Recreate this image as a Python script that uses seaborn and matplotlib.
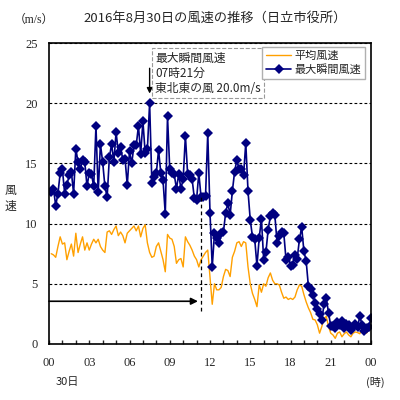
import numpy as np
import pandas as pd
import matplotlib.pyplot as plt
import seaborn as sns

# 10-minute values, 00:10 .. 24:00 on 2016-08-30
mean_speed = [
    7.5, 7.4, 7.2, 8.1, 8.9, 8.3, 8.4, 7.0, 7.7, 8.3,
    7.3, 9.2, 7.6, 8.3, 8.9, 7.8, 8.4, 7.8, 8.3, 8.7,
    8.4, 8.7, 8.1, 7.8, 7.6, 9.3, 9.4, 9.1, 9.5, 9.8,
    9.0, 9.3, 9.0, 8.4, 9.2, 9.4, 9.6, 9.8, 9.4, 9.8,
    8.9, 9.6, 9.9, 8.4, 7.6, 7.2, 7.3, 8.1, 8.4, 7.7,
    7.0, 6.0, 9.1, 8.8, 8.7, 8.1, 6.7, 7.0, 7.1, 6.4,
    8.9, 8.5, 8.2, 7.8, 7.3, 7.0, 6.4, 7.0, 7.3, 7.6,
    7.8,
    5.6, 3.3, 5.0, 4.5, 4.5, 4.7, 5.6, 6.2, 6.1, 5.6,
    7.2, 7.7, 8.4, 8.5, 8.1, 8.5, 8.4, 6.4, 5.0, 4.2,
    3.7, 3.1, 4.9, 4.3, 5.0, 4.8, 5.5, 5.9, 5.3, 5.0,
    5.0, 4.9, 4.3, 3.8, 3.9, 3.7, 3.8, 3.7, 3.9, 4.5,
    4.9, 4.8, 4.1, 3.5, 3.0, 2.6, 2.05, 2.0, 1.6, 0.9,
    1.45, 2.1, 2.3, 1.45, 0.9, 0.75, 0.47, 0.9, 1.0, 0.6,
    0.85, 1.0, 0.75, 0.6, 0.9, 1.0, 0.95, 0.85, 1.3, 1.0,
    0.9, 1.2, 1.5,
]
gust_speed = [
    12.6, 12.9, 11.5, 12.5, 14.2, 14.5, 12.5, 13.2, 14.0, 14.3,
    12.5, 16.2, 15.1, 14.5, 15.3, 15.1, 13.1, 14.2, 14.1, 13.1,
    18.1, 12.6, 16.6, 15.1,
    13.1, 12.2, 15.5, 16.6, 15.1, 17.6, 15.9, 16.4, 15.3, 15.4,
    13.2, 16.0, 15.0, 16.5, 16.5, 18.1, 15.8, 18.5, 15.9, 16.2,
    20.0, 13.4, 13.9, 14.2, 16.1, 14.2,
    13.6, 10.8, 18.9, 14.5, 14.2, 14.1, 12.9, 14.1, 12.9, 13.7,
    17.3, 14.1, 14.0, 13.7, 12.1, 12.0, 14.2, 12.2, 12.2, 12.3,
    17.5, 10.9,
    6.4, 9.2, 8.8, 8.4, 9.2, 9.3, 10.9, 11.7, 10.7, 12.7,
    14.3, 15.3, 14.5, 14.5, 14.0, 16.7, 12.7, 10.3, 8.9, 8.7,
    6.5, 8.8, 10.4, 7.0, 7.6, 9.5, 10.6, 10.9, 10.7, 8.4,
    9.0, 9.3, 9.2, 7.0, 7.2, 6.5, 6.6, 7.4, 7.1, 8.7,
    9.7, 7.7, 6.9, 4.8, 4.6, 4.1, 3.4, 2.9, 2.5, 2.0,
    3.3, 3.8, 2.6,
    1.5, 1.5, 1.3, 1.8, 1.6, 1.9, 1.3, 1.7, 1.6, 1.2,
    1.4, 1.7, 1.4, 2.3, 1.6, 1.1, 1.3, 1.45, 2.15,
]
hour_ticks = [0, 3, 6, 9, 12, 15, 18, 21, 24]
hour_labels = ['00', '03', '06', '09', '12', '15', '18', '21', '00']
peak_hour = 7.5
peak_value = 20.0
after_hour = 11.3

hours = np.arange(1, len(gust_speed) + 1) / 6.0
df = pd.DataFrame({'hour': hours, 'mean': mean_speed, 'gust': gust_speed})

sns.set_style('white')
plt.rcParams['font.family'] = ['Noto Sans CJK JP', 'DejaVu Sans']
serif = ['Liberation Serif', 'Noto Sans CJK JP']

fig = plt.figure(figsize=(4, 4), dpi=100)
ax = fig.add_axes([0.1225, 0.14, 0.805, 0.7525])

sns.lineplot(data=df, x='hour', y='mean', ax=ax, color='#ffa000', lw=1.0,
             label='平均風速')
sns.lineplot(data=df, x='hour', y='gust', ax=ax, color='#000080', lw=1.2,
             marker='D', markersize=4.8, markeredgewidth=0, label='最大瞬間風速')

ax.set_xlim(0, 24)
ax.set_ylim(0, 25)
ax.set_xticks(hour_ticks)
ax.set_xticklabels(hour_labels, family=serif, fontsize=9)
ax.set_xticks(range(25), minor=True)
ax.set_yticks([0, 5, 10, 15, 20, 25])
ax.set_yticklabels(['0', '5', '10', '15', '20', '25'], family=serif, fontsize=9)
ax.tick_params(axis='x', which='both', direction='in', length=3, width=1,
               bottom=True, pad=9)
ax.tick_params(axis='y', length=0, pad=8)
ax.set_xlabel('')
ax.set_ylabel('')
ax.grid(axis='y', color='black', lw=0.8, ls=(0, (2.5, 2)))
for s in ax.spines.values():
    s.set_color('black')
    s.set_linewidth(1.2)

# 4 hours after the peak
ax.plot([after_hour, after_hour], [2.7, 12.2], color='black', lw=0.9,
        ls=(0, (3, 2.5)))
ax.annotate('', xy=(after_hour - 0.2, 3.55), xytext=(0, 3.55),
            arrowprops=dict(arrowstyle='-|>', color='black', lw=1.2,
                            mutation_scale=10, shrinkA=0, shrinkB=0))
ax.annotate('', xy=(peak_hour, peak_value + 0.8), xytext=(peak_hour, 22.9),
            arrowprops=dict(arrowstyle='-|>', color='black', lw=1,
                            mutation_scale=8, shrinkA=0, shrinkB=0))
ax.text(7.9, 24.3, '最大瞬間風速\n07時21分\n東北東の風 20.0m/s', ha='left', va='top',
        fontsize=8.5, linespacing=1.25,
        bbox=dict(boxstyle='square,pad=0.25', fc='white', ec='#999999',
                  ls='--', lw=0.8))

leg = ax.legend(loc='upper right', bbox_to_anchor=(0.981, 0.988), fontsize=8,
                frameon=True, fancybox=False, edgecolor='#b0b0b0', framealpha=1,
                handlelength=2.3, borderpad=0.35, labelspacing=0.3,
                handletextpad=0.25, borderaxespad=0)
leg.get_frame().set_linewidth(1.0)

fig.text(215 / 400, 1 - 18 / 400, '2016年8月30日の風速の推移（日立市役所）',
         ha='center', va='center', fontsize=9.5)
fig.text(34 / 400, 1 - 20 / 400, '（m/s）', ha='center', va='center',
         fontsize=8.5, family=serif)
fig.text(10 / 400, 1 - 198 / 400, '風\n速', ha='center', va='center',
         fontsize=8.5, linespacing=1.3)
fig.text(67 / 400, 1 - 382 / 400, '30日', ha='center', va='center', fontsize=8)
fig.text(375 / 400, 1 - 382 / 400, '(時)', ha='center', va='center', fontsize=8)

fig.savefig('out.png', dpi=100)
